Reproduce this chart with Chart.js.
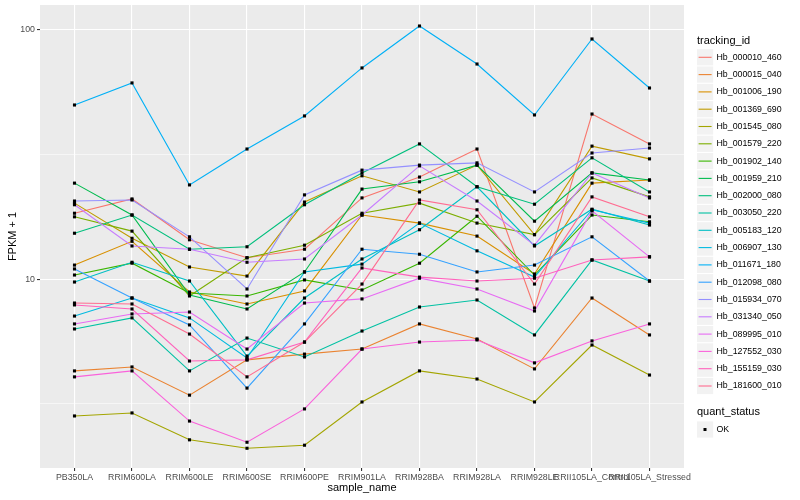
<!DOCTYPE html>
<html>
<head>
<meta charset="utf-8">
<script src="https://cdn.jsdelivr.net/npm/chart.js@4.4.0/dist/chart.umd.min.js"></script>
<style>
  html, body { margin: 0; padding: 0; background: #fff; }
</style>
</head>
<body>
<canvas id="chart" width="800" height="500"></canvas>
<script>
// sample names along the x axis
const samples = ["PB350LA", "RRIM600LA", "RRIM600LE", "RRIM600SE", "RRIM600PE", "RRIM901LA",
  "RRIM928BA", "RRIM928LA", "RRIM928LE", "RRII105LA_Control", "RRII105LA_Stressed"];

const trackingIds = ["Hb_000010_460", "Hb_000015_040", "Hb_001006_190", "Hb_001369_690", "Hb_001545_080",
  "Hb_001579_220", "Hb_001902_140", "Hb_001959_210", "Hb_002000_080", "Hb_003050_220",
  "Hb_005183_120", "Hb_006907_130", "Hb_011671_180", "Hb_012098_080", "Hb_015934_070",
  "Hb_031340_050", "Hb_089995_010", "Hb_127552_030", "Hb_155159_030", "Hb_181600_010"];

const colours = ["#F8766D", "#EA8331", "#D89000", "#C09B00", "#A3A500", "#7CAE00", "#39B600", "#00BB4E",
  "#00BF7D", "#00C1A3", "#00BFC4", "#00BAE0", "#00B0F6", "#35A2FF", "#9590FF", "#C77CFF",
  "#E76BF3", "#FA62DB", "#FF62BC", "#FF6C91"];

// FPKM + 1, one value per sample
const hb000010_460 = [18.4, 21.0, 14.4, 12.2, 13.2, 21.2, 25.7, 33.3, 7.67, 46.0, 34.9];
const hb000015_040 = [4.29, 4.45, 3.43, 4.75, 5.01, 5.25, 6.62, 5.76, 4.37, 8.41, 5.98];
const hb001006_190 = [11.4, 14.2, 8.89, 7.96, 8.98, 18.1, 16.8, 14.9, 10.5, 24.3, 25.0];
const hb001369_690 = [20.2, 14.6, 11.2, 10.3, 20.4, 26.0, 22.4, 28.7, 15.1, 34.2, 30.4];
const hb001545_080 = [2.83, 2.91, 2.27, 2.10, 2.16, 3.22, 4.29, 3.98, 3.22, 5.45, 4.13];
const hb001579_220 = [17.8, 15.6, 8.57, 12.2, 13.7, 18.4, 20.2, 16.8, 15.1, 25.5, 21.4];
const hb001902_140 = [10.4, 11.6, 8.81, 8.57, 9.94, 9.06, 11.6, 17.9, 10.4, 18.1, 17.0];
const hb001959_210 = [24.3, 18.1, 8.65, 7.60, 10.7, 23.0, 24.6, 28.7, 17.1, 26.7, 25.0];
const hb002000_080 = [15.3, 18.1, 13.2, 13.5, 19.9, 26.7, 34.9, 23.5, 20.0, 30.7, 22.4];
const hb003050_220 = [6.32, 7.00, 4.29, 5.81, 4.88, 6.20, 7.74, 8.26, 5.98, 11.95, 9.84];
const hb005183_120 = [9.75, 11.7, 9.84, 4.92, 8.41, 12.06, 15.8, 23.5, 13.6, 19.1, 16.5];
const hb006907_130 = [7.12, 8.41, 7.00, 4.83, 10.7, 11.5, 16.8, 13.0, 10.2, 19.0, 16.8];
const hb011671_180 = [50.0, 61.3, 23.9, 33.3, 45.2, 70.4, 103.7, 73.0, 45.6, 92.0, 58.5];
const hb012098_080 = [11.0, 8.41, 6.56, 3.66, 6.62, 13.2, 12.6, 10.7, 11.4, 14.8, 9.84];
const hb015934_070 = [20.6, 20.8, 14.8, 9.14, 21.8, 27.4, 28.7, 29.3, 22.4, 32.1, 33.6];
const hb031340_050 = [19.9, 13.6, 13.2, 11.7, 12.06, 18.1, 28.5, 20.6, 13.7, 26.7, 21.2];
const hb089995_010 = [6.62, 7.26, 7.39, 5.25, 8.03, 8.34, 10.1, 9.14, 7.46, 18.8, 12.3];
const hb127552_030 = [4.06, 4.29, 2.70, 2.22, 3.02, 5.25, 5.60, 5.71, 4.62, 5.66, 6.62];
const hb155159_030 = [7.89, 7.60, 4.70, 4.75, 5.60, 11.1, 10.2, 9.84, 10.1, 11.95, 12.3];
const hb181600_010 = [8.03, 7.96, 6.03, 4.06, 5.60, 9.57, 20.8, 19.0, 9.57, 21.4, 17.8];

const series = [hb000010_460, hb000015_040, hb001006_190, hb001369_690, hb001545_080,
  hb001579_220, hb001902_140, hb001959_210, hb002000_080, hb003050_220,
  hb005183_120, hb006907_130, hb011671_180, hb012098_080, hb015934_070,
  hb031340_050, hb089995_010, hb127552_030, hb155159_030, hb181600_010];

// log axis breaks: minor, major, minor, major
const yBreaks = [3.1623, 10, 31.623, 100];
const yTickLabels = ["", "10", "", "100"];

const FONT = "'Liberation Sans', Arial, sans-serif";

const toPoints = (vals) => vals.map((v, i) => ({ x: i, y: v }));

const lineSets = series.map((vals, k) => ({
  label: trackingIds[k],
  data: toPoints(vals),
  borderColor: colours[k],
  borderWidth: 1.1,
  pointRadius: 0,
  tension: 0,
  fill: false,
  order: 100 - k,
}));

const pointSet = {
  label: "OK",
  data: series.flatMap(toPoints),
  showLine: false,
  pointStyle: "rect",
  pointRadius: 2.2,
  pointBorderWidth: 0,
  pointBackgroundColor: "#000",
  order: 0,
};

const ggExtras = {
  id: "ggExtras",
  beforeDraw(chart) {
    const { ctx, chartArea: a } = chart;
    ctx.save();
    ctx.fillStyle = "#fff";
    ctx.fillRect(0, 0, chart.width, chart.height);
    ctx.fillStyle = "#EBEBEB";
    ctx.fillRect(a.left, a.top, a.right - a.left, a.bottom - a.top);
    ctx.restore();
  },
  afterDraw(chart) {
    const { ctx, chartArea: a } = chart;
    ctx.save();
    ctx.fillStyle = "#000";
    ctx.textBaseline = "middle";

    // axis titles
    ctx.font = "11px " + FONT;
    ctx.textAlign = "center";
    ctx.fillText("sample_name", (a.left + a.right) / 2, 488);
    ctx.save();
    ctx.translate(13, (a.top + a.bottom) / 2);
    ctx.rotate(-Math.PI / 2);
    ctx.fillText("FPKM + 1", 0, 0);
    ctx.restore();

    // legend
    ctx.textAlign = "left";
    ctx.fillText("tracking_id", 697, 41);
    trackingIds.forEach((id, i) => {
      const cy = 57.3 + i * 17.3;
      ctx.fillStyle = "#F2F2F2";
      ctx.fillRect(697, cy - 8.1, 16.2, 16.2);
      ctx.strokeStyle = colours[i];
      ctx.lineWidth = 1.1;
      ctx.beginPath();
      ctx.moveTo(698.6, cy);
      ctx.lineTo(711.6, cy);
      ctx.stroke();
      ctx.fillStyle = "#000";
      ctx.font = "8.8px " + FONT;
      ctx.fillText(id, 716.5, cy);
    });

    ctx.font = "11px " + FONT;
    ctx.fillText("quant_status", 697, 412);
    ctx.fillStyle = "#F2F2F2";
    ctx.fillRect(697, 421.4, 16.2, 16.2);
    ctx.fillStyle = "#000";
    ctx.fillRect(703.5, 428, 3, 3);
    ctx.font = "8.8px " + FONT;
    ctx.fillText("OK", 716.5, 429.5);
    ctx.restore();
  },
};

new Chart(document.getElementById("chart"), {
  type: "line",
  data: { datasets: [...lineSets, pointSet] },
  options: {
    responsive: false,
    animation: false,
    layout: { padding: { left: 0, top: 5, right: 116, bottom: 0 } },
    plugins: { legend: { display: false }, tooltip: { enabled: false } },
    scales: {
      x: {
        type: "linear",
        min: -0.6,
        max: 10.6,
        afterBuildTicks: (s) => { s.ticks = samples.map((_, i) => ({ value: i })); },
        afterFit: (s) => { s.height = 32; s.paddingLeft = 0; s.paddingRight = 0; },
        ticks: {
          autoSkip: false,
          maxRotation: 0,
          minRotation: 0,
          padding: 1,
          color: "#4D4D4D",
          font: { family: FONT, size: 8.8 },
          callback: (v, i) => samples[i],
        },
        grid: { color: "#FFFFFF", lineWidth: 1.1, tickLength: 3, tickColor: "#333333", drawTicks: true },
        border: { display: false },
      },
      y: {
        type: "logarithmic",
        min: 1.75,
        max: 125.9,
        afterBuildTicks: (s) => { s.ticks = yBreaks.map((v) => ({ value: v })); },
        afterFit: (s) => { s.width = 40; s.paddingTop = 0; s.paddingBottom = 0; },
        ticks: {
          padding: 2,
          color: "#4D4D4D",
          font: { family: FONT, size: 8.8 },
          callback: (v, i) => yTickLabels[i],
        },
        grid: {
          color: "#FFFFFF",
          lineWidth: (c) => (c.index % 2 === 1 ? 1.1 : 0.55),
          tickLength: 3,
          tickColor: (c) => (c.index % 2 === 1 ? "#333333" : "rgba(0,0,0,0)"),
        },
        border: { display: false },
      },
    },
  },
  plugins: [ggExtras],
});
</script>
</body>
</html>
